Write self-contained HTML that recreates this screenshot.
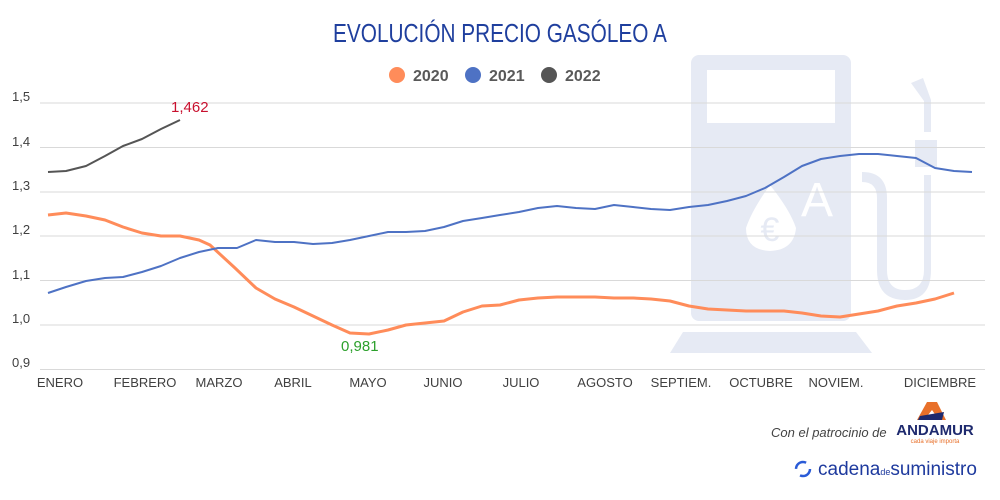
<!DOCTYPE html><html><head><style>body{margin:0;background:#fff}svg{display:block}text{font-family:"Liberation Sans",sans-serif}</style></head><body>
<svg width="1000" height="500" viewBox="0 0 1000 500">
<g fill="#e6eaf4">
<rect x="691" y="55" width="160" height="266" rx="8"/>
<polygon points="683,332 856,332 872,353 670,353"/>
<path d="M911,83 L923,78 L931,100 L931,132 L924,132 L924,101 Z"/>
<rect x="915" y="140" width="22" height="27"/>
<rect x="924" y="175" width="7" height="60"/>
<path d="M862,172 L862,182 Q877,182 877,198 L877,270 Q877,300 905,300 Q931,300 931,270 L931,235 L924,235 L924,270 Q924,290 905,290 Q887,290 887,270 L887,198 Q887,172 862,172 Z"/>
</g>
<rect x="707" y="70" width="128" height="53" fill="#fff"/>
<path d="M770,185 Q752,210 746,228 Q746,250 770,251 Q794,250 796,228 Q790,210 770,185Z" fill="#fff"/>
<text x="770" y="241" font-size="34" fill="#e6eaf4" text-anchor="middle">€</text>
<text x="817" y="216" font-size="48" fill="#fff" text-anchor="middle">A</text>
<g stroke="#d9d9d9" stroke-width="1">
<line x1="40" y1="103" x2="985" y2="103"/><line x1="40" y1="147.5" x2="985" y2="147.5"/><line x1="40" y1="192" x2="985" y2="192"/><line x1="40" y1="236" x2="985" y2="236"/><line x1="40" y1="280.5" x2="985" y2="280.5"/><line x1="40" y1="325" x2="985" y2="325"/><line x1="40" y1="369.5" x2="985" y2="369.5"/>
</g>
<g font-size="13" fill="#404040">
<text x="12" y="101">1,5</text><text x="12" y="146">1,4</text><text x="12" y="190">1,3</text><text x="12" y="234">1,2</text><text x="12" y="279">1,1</text><text x="12" y="323">1,0</text><text x="12" y="367">0,9</text>
</g>
<g font-size="13" fill="#404040" text-anchor="middle">
<text x="60" y="387">ENERO</text><text x="145" y="387">FEBRERO</text><text x="219" y="387">MARZO</text><text x="293" y="387">ABRIL</text><text x="368" y="387">MAYO</text><text x="443" y="387">JUNIO</text><text x="521" y="387">JULIO</text><text x="605" y="387">AGOSTO</text><text x="681" y="387">SEPTIEM.</text><text x="761" y="387">OCTUBRE</text><text x="836" y="387">NOVIEM.</text><text x="940" y="387">DICIEMBRE</text>
</g>
<polyline fill="none" stroke="#ff8c5a" stroke-width="3" stroke-linejoin="round" points="48,215 66,213 86,216 105,220 123,227 142,233 161,236 180,236 199,240 210,245 235,268 256,288 275,299 294,307 313,316 332,325 350,333 369,334 388,330 406,325 425,323 444,321 463,312 482,306 500,305 519,300 538,298 557,297 576,297 595,297 614,298 633,298 651,299 670,301 689,306 708,309 727,310 746,311 765,311 784,311 802,313 821,316 840,317 859,314 878,311 897,306 916,303 935,299 954,293"/>
<polyline fill="none" stroke="#4e72c4" stroke-width="2" stroke-linejoin="round" points="48,293 66,287 86,281 105,278 123,277 142,272 161,266 180,258 199,252 218,248 237,248 256,240 275,242 294,242 313,244 332,243 350,240 369,236 388,232 406,232 425,231 444,227 463,221 482,218 500,215 519,212 538,208 557,206 576,208 595,209 614,205 633,207 651,209 670,210 689,207 708,205 727,201 746,196 765,188 784,177 802,166 821,159 840,156 859,154 878,154 897,156 916,158 935,168 954,171 972,172"/>
<polyline fill="none" stroke="#555" stroke-width="2" stroke-linejoin="round" points="48,172 66,171 86,166 105,156 123,146 142,139 161,129 180,120"/>
<text x="171" y="112" font-size="15" fill="#c8102e">1,462</text>
<text x="341" y="351" font-size="15" fill="#2ca02c">0,981</text>
<text x="500" y="42" font-size="26" fill="#1f3f9e" text-anchor="middle" transform="scale(0.8,1)" style="transform-origin:500px 0">EVOLUCIÓN PRECIO GASÓLEO A</text>
<g font-size="16" fill="#595959" font-weight="bold">
<circle cx="397" cy="75" r="8" fill="#ff8c5a"/><text x="413" y="81">2020</text>
<circle cx="473" cy="75" r="8" fill="#4e72c4"/><text x="489" y="81">2021</text>
<circle cx="549" cy="75" r="8" fill="#555"/><text x="565" y="81">2022</text>
</g>
<text x="771" y="437" font-size="13" font-style="italic" fill="#444">Con el patrocinio de</text>
<polygon points="927,402 937,402 946,420 939,420 932,410 924,420 917,420" fill="#e8702a"/>
<polygon points="920,416 944,412 942,420 918,420" fill="#1e2a6e"/>
<text x="935" y="435" font-size="15" font-weight="bold" fill="#1e2a6e" text-anchor="middle">ANDAMUR</text>
<text x="935" y="443" font-size="6" fill="#e8702a" text-anchor="middle">cada viaje importa</text>
<circle cx="803" cy="469" r="7" fill="none" stroke="#2a5bd7" stroke-width="2.5" stroke-dasharray="14 8"/>
<text x="818" y="475" font-size="19" fill="#1e3a9e">cadena<tspan font-size="9">de</tspan>suministro</text>
</svg></body></html>
